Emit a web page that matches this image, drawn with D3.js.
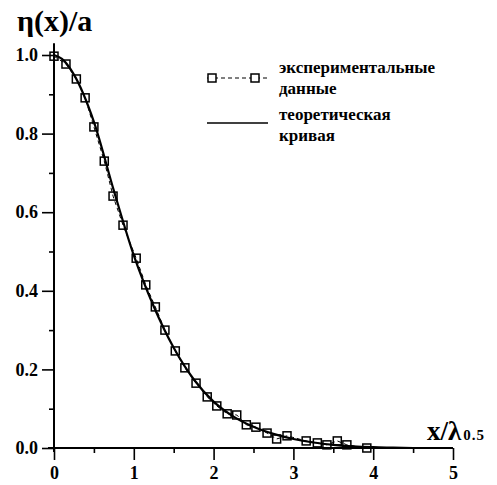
<!DOCTYPE html>
<html>
<head>
<meta charset="utf-8">
<script src="https://cdn.jsdelivr.net/npm/d3@7"></script>
<style>
  body { margin: 0; background: #fff; }
  svg { display: block; }
  text { font-family: "Liberation Serif", "DejaVu Serif", "Times New Roman", serif !important; font-weight: bold; fill: #000; }
</style>
</head>
<body>
<div id="graph"></div>
<script>
// experimental points (x / lambda_0.5, eta/a)
var expX = [0, 0.15, 0.28, 0.39, 0.50, 0.63, 0.74, 0.865, 1.03, 1.15, 1.27, 1.39, 1.52, 1.64, 1.78,
            1.92, 2.04, 2.17, 2.29, 2.41, 2.53, 2.67, 2.79, 2.92, 3.16, 3.30, 3.42, 3.55, 3.67, 3.92];
var expY = [0.997, 0.977, 0.939, 0.891, 0.817, 0.730, 0.641, 0.567, 0.483, 0.415, 0.359, 0.300, 0.247, 0.204, 0.165,
            0.130, 0.107, 0.087, 0.084, 0.059, 0.053, 0.038, 0.023, 0.031, 0.018, 0.013, 0.008, 0.018, 0.008, 0.0];

// theoretical curve
var theoX = [0, 0.1, 0.25, 0.5, 0.75, 1, 1.25, 1.5, 1.75, 2, 2.25, 2.5, 2.75, 3, 3.25, 3.5, 3.75, 4, 4.25, 4.5];
var theoY = [1.0, 0.99, 0.95, 0.83, 0.655, 0.49, 0.36, 0.255, 0.175, 0.118, 0.08, 0.054, 0.036, 0.023, 0.014, 0.008, 0.004, 0.002, 0.001, 0.0];

var xTicks = [0, 1, 2, 3, 4, 5];
var xMinor = [0.5, 1.5, 2.5, 3.5, 4.5];
var yTicks = [0, 0.2, 0.4, 0.6, 0.8, 1.0];
var yMinor = [0.1, 0.3, 0.5, 0.7, 0.9];

var legendLabels = [["экспериментальные", "данные"], ["теоретическая", "кривая"]];

var width = 497, height = 485;

var svg = d3.select("#graph").append("svg")
    .attr("width", width)
    .attr("height", height);

svg.append("rect").attr("width", width).attr("height", height).attr("fill", "#fff");

var x = d3.scaleLinear().domain([0, 5]).range([54, 453]);
var y = d3.scaleLinear().domain([0, 1]).range([448, 55]);

// x axis
var gx = svg.append("g").attr("transform", "translate(0," + y(0) + ")");
gx.call(d3.axisBottom(x).tickValues(xTicks).tickSize(12).tickPadding(6).tickFormat(d3.format("d")));
gx.append("g").call(d3.axisBottom(x).tickValues(xMinor).tickSize(5).tickFormat(""));
gx.selectAll(".domain").remove();
gx.append("line").attr("x1", x(0) - 6).attr("x2", x(5)).attr("stroke", "#000").attr("stroke-width", 2);
gx.selectAll(".tick line").attr("stroke-width", 1.6);
gx.selectAll(".tick text").style("font-size", "18px");

// y axis
var gy = svg.append("g").attr("transform", "translate(" + x(0) + ",0)");
gy.call(d3.axisLeft(y).tickValues(yTicks).tickSize(12).tickPadding(4).tickFormat(d3.format(".1f")));
gy.append("g").call(d3.axisLeft(y).tickValues(yMinor).tickSize(5).tickFormat(""));
gy.selectAll(".domain").remove();
gy.append("line").attr("y1", y(0) + 4).attr("y2", y(1.03)).attr("stroke", "#000").attr("stroke-width", 2);
gy.selectAll(".tick line").attr("stroke-width", 1.6);
gy.selectAll(".tick text").style("font-size", "18px");

// theoretical curve
var theo = theoX.map(function(d, i) { return [d, theoY[i]]; });
svg.append("path")
   .datum(theo)
   .attr("fill", "none")
   .attr("stroke", "#000")
   .attr("stroke-width", 2.2)
   .attr("d", d3.line().x(function(d) { return x(d[0]); }).y(function(d) { return y(d[1]); }).curve(d3.curveMonotoneX));

// experimental data
var exp = expX.map(function(d, i) { return [d, expY[i]]; });
svg.append("path")
   .datum(exp)
   .attr("fill", "none")
   .attr("stroke", "#000")
   .attr("stroke-width", 1)
   .attr("stroke-dasharray", "4,3")
   .attr("d", d3.line().x(function(d) { return x(d[0]); }).y(function(d) { return y(d[1]); }));

svg.selectAll(".pt")
   .data(exp)
   .enter()
   .append("rect")
   .attr("class", "pt")
   .attr("x", function(d) { return x(d[0]) - 4; })
   .attr("y", function(d) { return y(d[1]) - 4; })
   .attr("width", 8)
   .attr("height", 8)
   .attr("fill", "none")
   .attr("stroke", "#000")
   .attr("stroke-width", 1.5);

// axis titles
svg.append("text").attr("x", 17).attr("y", 31).style("font-size", "30px").text("η(x)/a");
var xt = svg.append("text").attr("x", 427).attr("y", 440).style("font-size", "27px");
xt.append("tspan").text("x/λ");
xt.append("tspan").style("font-size", "15px").style("letter-spacing", "1px").attr("dx", 2).text("0.5");

// legend
var lg = svg.append("g");
lg.append("line").attr("x1", 207).attr("x2", 267).attr("y1", 78).attr("y2", 78)
  .attr("stroke", "#000").attr("stroke-width", 1).attr("stroke-dasharray", "4,3");
[212, 255].forEach(function(px) {
  lg.append("rect").attr("x", px - 4).attr("y", 74).attr("width", 8).attr("height", 8)
    .attr("fill", "#fff").attr("stroke", "#000").attr("stroke-width", 1.5);
});
lg.append("line").attr("x1", 207).attr("x2", 268).attr("y1", 123).attr("y2", 123)
  .attr("stroke", "#000").attr("stroke-width", 1.6);

var baselines = [[73, 94], [120, 141]];
legendLabels.forEach(function(lines, i) {
  lines.forEach(function(t, j) {
    lg.append("text").attr("x", 279).attr("y", baselines[i][j]).style("font-size", "17px").text(t);
  });
});
</script>
</body>
</html>
